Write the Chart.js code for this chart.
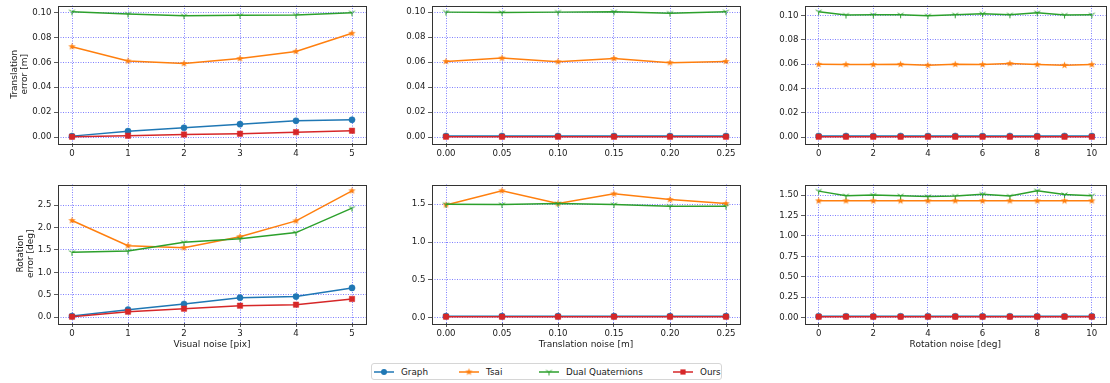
<!DOCTYPE html>
<html><head><meta charset="utf-8">
<script src="https://cdn.jsdelivr.net/npm/chart.js@4.4.0/dist/chart.umd.min.js"></script>
<style>
html,body{margin:0;padding:0;background:#fff;overflow:hidden;width:1110px;height:383px;position:relative;}
canvas.p{position:absolute;}
#legend{position:absolute;left:371px;top:363px;width:351px;height:17px;border:1px solid #d6d6d6;border-radius:3px;background:#fff;font:8.8px "DejaVu Sans";color:#1a1a1a;box-sizing:border-box;}
.li{position:absolute;top:0;height:15px;display:flex;align-items:center;white-space:nowrap;}
.li canvas{margin-right:7px;}
</style></head><body>
<canvas id="c0" class="p"></canvas>
<canvas id="c1" class="p"></canvas>
<canvas id="c2" class="p"></canvas>
<canvas id="c3" class="p"></canvas>
<canvas id="c4" class="p"></canvas>
<canvas id="c5" class="p"></canvas>
<div id="legend"></div>
<script>
// ---------------- data ----------------
const seriesNames = ['Graph', 'Tsai', 'Dual Quaternions', 'Ours'];
const seriesColors = ['#1f77b4', '#ff7f0e', '#2ca02c', '#d62728'];

const visualNoise = [0, 1, 2, 3, 4, 5];
const translationNoise = [0, 0.05, 0.10, 0.15, 0.20, 0.25];
const rotationNoise = [0, 1, 2, 3, 4, 5, 6, 7, 8, 9, 10];

// Translation error [m]
const tErrVis_Graph = [0.0008, 0.0048, 0.0075, 0.0104, 0.0131, 0.0139];
const tErrVis_Tsai  = [0.0725, 0.0610, 0.0590, 0.0630, 0.0687, 0.0832];
const tErrVis_DQ    = [0.1005, 0.0987, 0.0973, 0.0976, 0.0979, 0.0997];
const tErrVis_Ours  = [0.0003, 0.0011, 0.0021, 0.0027, 0.0040, 0.0051];

const tErrTra_Graph = [0.0009, 0.0009, 0.0009, 0.0009, 0.0009, 0.0009];
const tErrTra_Tsai  = [0.0605, 0.0632, 0.0603, 0.0629, 0.0595, 0.0605];
const tErrTra_DQ    = [0.1000, 0.0997, 0.1000, 0.1003, 0.0992, 0.1003];
const tErrTra_Ours  = [0.0003, 0.0003, 0.0003, 0.0003, 0.0003, 0.0003];

const tErrRot_Graph = [0.0009, 0.0009, 0.0009, 0.0009, 0.0009, 0.0009, 0.0009, 0.0009, 0.0009, 0.0009, 0.0009];
const tErrRot_Tsai  = [0.0598, 0.0596, 0.0596, 0.0598, 0.0590, 0.0598, 0.0596, 0.0604, 0.0596, 0.0590, 0.0596];
const tErrRot_DQ    = [0.1030, 0.1003, 0.1005, 0.1005, 0.0997, 0.1005, 0.1014, 0.1005, 0.1022, 0.1003, 0.1005];
const tErrRot_Ours  = [0.0003, 0.0003, 0.0003, 0.0003, 0.0003, 0.0003, 0.0003, 0.0003, 0.0003, 0.0003, 0.0003];

// Rotation error [deg]
const rErrVis_Graph = [0.022, 0.165, 0.292, 0.434, 0.457, 0.651];
const rErrVis_Tsai  = [2.156, 1.594, 1.549, 1.796, 2.148, 2.820];
const rErrVis_DQ    = [1.445, 1.474, 1.669, 1.751, 1.886, 2.433];
const rErrVis_Ours  = [0.008, 0.120, 0.187, 0.254, 0.277, 0.404];

const rErrTra_Graph = [0.020, 0.020, 0.020, 0.020, 0.020, 0.020];
const rErrTra_Tsai  = [1.491, 1.678, 1.509, 1.638, 1.562, 1.509];
const rErrTra_DQ    = [1.500, 1.496, 1.509, 1.496, 1.474, 1.474];
const rErrTra_Ours  = [0.013, 0.013, 0.013, 0.013, 0.013, 0.013];

const rErrRot_Graph = [0.015, 0.015, 0.015, 0.015, 0.015, 0.015, 0.015, 0.015, 0.015, 0.015, 0.015];
const rErrRot_Tsai  = [1.430, 1.430, 1.430, 1.430, 1.430, 1.430, 1.430, 1.430, 1.430, 1.430, 1.430];
const rErrRot_DQ    = [1.549, 1.492, 1.500, 1.492, 1.483, 1.488, 1.512, 1.488, 1.553, 1.508, 1.492];
const rErrRot_Ours  = [0.010, 0.010, 0.010, 0.010, 0.010, 0.010, 0.010, 0.010, 0.010, 0.010, 0.010];

// tick labels
const xTicksVisual = [0, 1, 2, 3, 4, 5];
const xTicksTrans = [0, 0.05, 0.10, 0.15, 0.20, 0.25];
const xTicksRot = [0, 2, 4, 6, 8, 10];
const yTicksTransErr = [0, 0.02, 0.04, 0.06, 0.08, 0.10];
const yTicksRotErrVis = [0, 0.5, 1.0, 1.5, 2.0, 2.5];
const yTicksRotErrTra = [0, 0.5, 1.0, 1.5];
const yTicksRotErrRot = [0, 0.25, 0.50, 0.75, 1.00, 1.25, 1.50];

const xTitles = ['Visual noise [pix]', 'Translation noise [m]', 'Rotation noise [deg]'];
const yTitles = [['Translation', 'error [m]'], ['Rotation', 'error [deg]']];

// ---------------- markers ----------------
function makeStar(color, R, r) {
  const s = 9, c = document.createElement('canvas'); c.width = c.height = s;
  const g = c.getContext('2d'); g.fillStyle = color; g.beginPath();
  for (let i = 0; i < 10; i++) {
    const a = -Math.PI / 2 + i * Math.PI / 5, rr = (i % 2) ? r : R;
    g.lineTo(s / 2 + rr * Math.cos(a), s / 2 + rr * Math.sin(a));
  }
  g.closePath(); g.fill(); return c;
}
function makeTri(color, R) {
  const s = 9, c = document.createElement('canvas'); c.width = c.height = s;
  const g = c.getContext('2d'); g.strokeStyle = color; g.lineWidth = 1; g.beginPath();
  const cx = s / 2, cy = s / 2;
  g.moveTo(cx, cy); g.lineTo(cx, cy + R);
  g.moveTo(cx, cy); g.lineTo(cx - 0.866 * R, cy - 0.5 * R);
  g.moveTo(cx, cy); g.lineTo(cx + 0.866 * R, cy - 0.5 * R);
  g.stroke(); return c;
}
const starImg = makeStar(seriesColors[1], 3.8, 1.6);
const triImg = makeTri(seriesColors[2], 3.4);
const pointStyles = ['circle', starImg, triImg, 'rect'];
const pointRadii = [3.1, 3, 3, 3.8];

// ---------------- layout ----------------
const cols = [{L: 58, R: 366, yW: 58, padR: 8}, {L: 432, R: 740, yW: 50, padR: 8}, {L: 805, R: 1109, yW: 50, padR: 1}];
const rows = [{T: 5, B: 143, padT: 4, xH: 20}, {T: 184, B: 323, padT: 4, xH: 30}];

const panels = [
  {row: 0, col: 0, x: visualNoise, ys: [tErrVis_Graph, tErrVis_Tsai, tErrVis_DQ, tErrVis_Ours], xt: xTicksVisual, xd: 0, yt: yTicksTransErr, yd: 2},
  {row: 0, col: 1, x: translationNoise, ys: [tErrTra_Graph, tErrTra_Tsai, tErrTra_DQ, tErrTra_Ours], xt: xTicksTrans, xd: 2, yt: yTicksTransErr, yd: 2},
  {row: 0, col: 2, x: rotationNoise, ys: [tErrRot_Graph, tErrRot_Tsai, tErrRot_DQ, tErrRot_Ours], xt: xTicksRot, xd: 0, yt: yTicksTransErr, yd: 2},
  {row: 1, col: 0, x: visualNoise, ys: [rErrVis_Graph, rErrVis_Tsai, rErrVis_DQ, rErrVis_Ours], xt: xTicksVisual, xd: 0, yt: yTicksRotErrVis, yd: 1},
  {row: 1, col: 1, x: translationNoise, ys: [rErrTra_Graph, rErrTra_Tsai, rErrTra_DQ, rErrTra_Ours], xt: xTicksTrans, xd: 2, yt: yTicksRotErrTra, yd: 1},
  {row: 1, col: 2, x: rotationNoise, ys: [rErrRot_Graph, rErrRot_Tsai, rErrRot_DQ, rErrRot_Ours], xt: xTicksRot, xd: 0, yt: yTicksRotErrRot, yd: 2},
];

const FONT = '"DejaVu Sans"';
const TXT = '#1a1a1a';
const GRID = 'rgba(0,0,255,0.5)';

const framePlugin = {
  id: 'frame',
  afterDatasetsDraw(chart) {
    const {ctx, chartArea: a} = chart;
    ctx.save(); ctx.strokeStyle = '#333'; ctx.lineWidth = 1;
    ctx.strokeRect(Math.round(a.left) + 0.5, Math.round(a.top) + 0.5, Math.round(a.right - a.left), Math.round(a.bottom - a.top));
    ctx.restore();
  }
};

function range(arrs) {
  let mn = Infinity, mx = -Infinity;
  arrs.forEach(a => a.forEach(v => { mn = Math.min(mn, v); mx = Math.max(mx, v); }));
  const m = (mx - mn) * 0.05;
  return [mn - m, mx + m];
}

panels.forEach((p, idx) => {
  const c = cols[p.col], r = rows[p.row];
  const cv = document.getElementById('c' + idx);
  const w = c.yW + (c.R - c.L) + c.padR, h = r.padT + (r.B - r.T) + r.xH;
  cv.width = w; cv.height = h;
  cv.style.left = (c.L - c.yW) + 'px'; cv.style.top = (r.T - r.padT) + 'px';
  cv.style.width = w + 'px'; cv.style.height = h + 'px';
  const [xmin, xmax] = range([p.x]);
  const [ymin, ymax] = range(p.ys);
  const datasets = p.ys.map((ys, i) => ({
    label: seriesNames[i],
    data: ys.map((v, j) => ({x: p.x[j], y: v})),
    borderColor: seriesColors[i],
    backgroundColor: seriesColors[i],
    borderWidth: 1.5,
    pointStyle: pointStyles[i],
    pointRadius: pointRadii[i],
    pointBorderWidth: (i === 1 || i === 2) ? 0 : 0.5,
    pointBackgroundColor: seriesColors[i],
    pointBorderColor: seriesColors[i],
    tension: 0,
    order: 3 - i,
    clip: 8,
  }));
  const showXTitle = p.row === 1;
  const showYTitle = p.col === 0;
  new Chart(cv, {
    type: 'line',
    data: {datasets},
    plugins: [framePlugin],
    options: {
      responsive: false, animation: false, devicePixelRatio: 1,
      layout: {padding: {left: 0, top: r.padT, right: c.padR, bottom: 0}},
      plugins: {legend: {display: false}, tooltip: {enabled: false}},
      scales: {
        x: {
          type: 'linear', min: xmin, max: xmax,
          afterBuildTicks: s => { s.ticks = p.xt.map(v => ({value: v})); },
          afterFit: s => { s.height = r.xH; s.paddingLeft = 0; s.paddingRight = 0; },
          ticks: {autoSkip: false, maxRotation: 0, padding: 2, color: TXT, font: {family: FONT, size: 8.6},
                  callback: v => Number(v).toFixed(p.xd)},
          grid: {color: GRID, lineWidth: 1, tickLength: 4, tickColor: '#333', tickWidth: 0.8},
          border: {display: false, dash: [1, 1.5]},
          title: {display: showXTitle, text: xTitles[p.col], color: TXT, font: {family: FONT, size: 9, lineHeight: 1.2},
                  padding: {top: 0, bottom: 2.6}}
        },
        y: {
          type: 'linear', min: ymin, max: ymax,
          afterBuildTicks: s => { s.ticks = p.yt.map(v => ({value: v})); },
          afterFit: s => { s.width = c.yW; s.paddingTop = 0; s.paddingBottom = 0; },
          ticks: {autoSkip: false, padding: 2.5, color: TXT, font: {family: FONT, size: 8.6},
                  callback: v => Number(v).toFixed(p.yd)},
          grid: {color: GRID, lineWidth: 1, tickLength: 4, tickColor: '#333', tickWidth: 0.8},
          border: {display: false, dash: [1, 1.5]},
          title: {display: showYTitle, text: yTitles[p.row], color: TXT, font: {family: FONT, size: 9, lineHeight: 1.1},
                  padding: {top: p.row === 0 ? 9.5 : 15.5, bottom: 0}}
        }
      }
    }
  });
});

// ---------------- legend ----------------
const legendX = [2, 87, 167, 301];
const lg = document.getElementById('legend');
seriesNames.forEach((name, i) => {
  const d = document.createElement('div'); d.className = 'li'; d.style.left = legendX[i] + 'px';
  const ic = document.createElement('canvas'); ic.width = 20; ic.height = 10;
  ic.style.width = '20px'; ic.style.height = '10px';
  const g = ic.getContext('2d');
  g.strokeStyle = seriesColors[i]; g.lineWidth = 1.5;
  g.beginPath(); g.moveTo(0, 5); g.lineTo(20, 5); g.stroke();
  g.fillStyle = seriesColors[i];
  if (pointStyles[i] === 'circle') { g.beginPath(); g.arc(10, 5, 3, 0, Math.PI * 2); g.fill(); }
  else if (pointStyles[i] === 'rect') { g.fillRect(7.4, 2.4, 5.2, 5.2); }
  else { g.drawImage(pointStyles[i], 10 - 4.5, 5 - 4.5); }
  d.appendChild(ic);
  const t = document.createElement('span'); t.textContent = name; d.appendChild(t);
  lg.appendChild(d);
});
</script>
</body></html>
